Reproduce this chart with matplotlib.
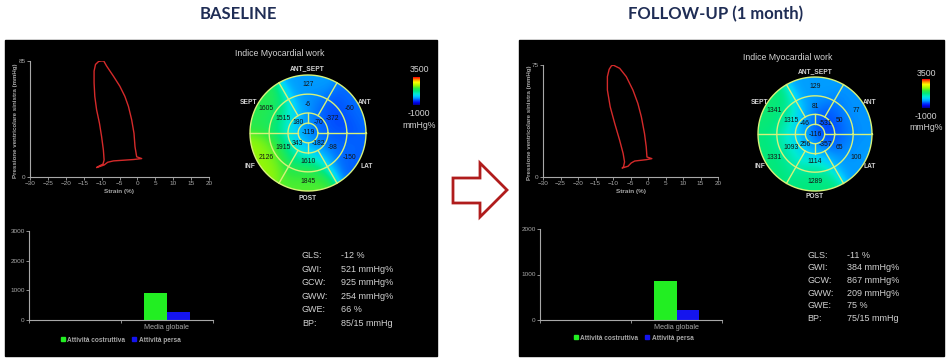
import numpy as np
import matplotlib
matplotlib.use('Agg')
import matplotlib.pyplot as plt
from matplotlib.colors import LinearSegmentedColormap
from matplotlib.patches import Rectangle, Polygon, Circle, Patch

W, H = 949, 361

# ---------------- data ----------------
panel_titles = ['BASELINE', 'FOLLOW-UP (1 month)']
strain_ticks = [-30, -25, -20, -15, -10, -5, 0, 5, 10, 15, 20]
pressure_max = [85, 75]

base_loop_strain = [-10.6, -9.4, -8.6, -6.7, -4.9, -3.5, -2.5, -1.6, -0.95, -0.67, -0.2, 1.2,
                    -1.1, -6.7, -8.3, -9.3, -11.4, -11.0, -9.6, -9.3, -9.5, -10.0, -10.6,
                    -11.4, -11.9, -12.1, -12.1, -11.7, -10.9]
base_loop_pressure = [85, 85, 81.3, 73.9, 66.5, 59.1, 51.7, 41.9, 32.0, 22.2, 14.8, 13.5,
                      12.8, 11.8, 10.8, 8.8, 6.9, 7.6, 9.5, 12.5, 19.7, 29.6, 39.4,
                      49.3, 59.1, 69.0, 77.6, 82.5, 84.5]
fu_loop_strain = [-10.0, -8.1, -6.2, -4.3, -2.9, -1.9, -1.0, -0.5, -0.3, 1.1,
                  -0.5, -3.8, -4.8, -5.7, -7.4, -7.0, -6.7, -7.1, -8.1, -9.5,
                  -10.8, -11.6, -11.6, -11.1, -10.5]
fu_loop_pressure = [75, 72.8, 67.2, 58.2, 49.3, 40.3, 29.1, 20.1, 13.4, 12.3,
                    11.6, 10.7, 9.4, 7.2, 6.0, 6.8, 10.1, 15.7, 24.6, 35.8,
                    47.0, 58.2, 67.2, 72.1, 74.3]

# bullseye: basal & mid order = ANT_SEPT, ANT, LAT, POST, INF, SEPT
wall_labels = ['ANT_SEPT', 'ANT', 'LAT', 'POST', 'INF', 'SEPT']
base_basal = [127, -60, -150, 1845, 2126, 1605]
base_mid = [-6, -372, -98, 1610, 1915, 1515]
base_apical = [180, -70, -182, 343]      # upper-left, upper-right, lower-right, lower-left
base_apex = -119
fu_basal = [129, 77, 100, 1289, 1331, 1341]
fu_mid = [81, 50, 65, 1114, 1093, 1315]
fu_apical = [-46, -531, -357, 256]
fu_apex = -116
cbar_range = [-1000, 3500]

bar_category = 'Media globale'
bar_series = ['Attività costruttiva', 'Attività persa']
base_bars = [925, 254]
fu_bars = [867, 209]
bar_ymax = [3000, 2000]

stat_names = ['GLS:', 'GWI:', 'GCW:', 'GWW:', 'GWE:', 'BP:']
base_stats = ['-12 %', '521 mmHg%', '925 mmHg%', '254 mmHg%', '66 %', '85/15 mmHg']
fu_stats = ['-11 %', '384 mmHg%', '867 mmHg%', '209 mmHg%', '75 %', '75/15 mmHg']

# ---------------- style ----------------
FONT = 'Liberation Sans'
GRAY = '#a8a8a8'
TXT = '#d2d2d2'
cmap = LinearSegmentedColormap.from_list('mw', [
    (0.00, '#000090'), (0.08, '#0000f0'), (0.16, '#0040ff'), (0.24, '#0098ff'),
    (0.32, '#00d0ff'), (0.40, '#00ecd0'), (0.50, '#00e880'), (0.60, '#30ea40'),
    (0.70, '#a0f800'), (0.82, '#ffff00'), (0.92, '#ff8000'), (1.00, '#ff0000')])

fig = plt.figure(figsize=(W / 100, H / 100), dpi=100)
fig.patch.set_facecolor('white')


def px_axes(x0, y0, x1, y1):
    return fig.add_axes([x0 / W, 1 - y1 / H, (x1 - x0) / W, (y1 - y0) / H])


def ftext(x, y, s, **kw):
    kw.setdefault('family', FONT)
    fig.text(x / W, 1 - y / H, s, **kw)


bg = px_axes(0, 0, W, H)
bg.set_xlim(0, W)
bg.set_ylim(H, 0)
bg.axis('off')

panels = [
    dict(x0=5, x1=437, title_x=238,
         loop=(30, 61, 209, 177), loop_ylab_x=16,
         loop_data=(base_loop_strain, base_loop_pressure),
         be_c=(308, 133), be_R=58, be_vals=(base_basal, base_mid, base_apical, base_apex),
         be_title=(235, 54),
         wl=[(307, 69), (365, 102), (367, 166), (308, 198), (250, 166), (249, 102)],
         cb=(413, 77, 420, 105), cb_x=419, cb_ty=(69, 113, 125),
         bar=(29, 231, 213, 320), bars=base_bars, ymax=bar_ymax[0],
         leg=(55, 340), stats=base_stats, st=(302, 341, 256, 13.4)),
    dict(x0=519, x1=944, title_x=716,
         loop=(543, 65, 718, 177), loop_ylab_x=529,
         loop_data=(fu_loop_strain, fu_loop_pressure),
         be_c=(815, 134), be_R=57, be_vals=(fu_basal, fu_mid, fu_apical, fu_apex),
         be_title=(743, 57),
         wl=[(815, 72), (870, 103), (870, 167), (815, 197), (760, 167), (760, 103)],
         cb=(922, 79, 930, 108), cb_x=926, cb_ty=(73, 116, 128),
         bar=(540, 229, 722, 320), bars=fu_bars, ymax=bar_ymax[1],
         leg=(568, 338), stats=fu_stats, st=(807, 847, 255, 12.7)),
]

for i, p in enumerate(panels):
    bg.add_patch(Rectangle((p['x0'], 40), p['x1'] - p['x0'], 316, color='black', zorder=0))
    ftext(p['title_x'], 14, panel_titles[i], family='Lato', fontweight='bold',
          fontsize=12, color='#1f2d55', ha='center', va='center')

# arrow between panels (decoration)
arrow_pts = [(453, 178), (480, 178), (480, 163), (507, 190), (480, 217), (480, 203), (453, 203)]
bg.add_patch(Polygon(arrow_pts, closed=True, facecolor='white', edgecolor='#b01c1c',
                     linewidth=2, joinstyle='miter', zorder=2))

basal_ang = np.deg2rad([90, 30, -30, -90, 210, 150])
apical_ang = np.deg2rad([135, 45, -45, 225])
R_APEX, R_API, R_MID = 0.17, 0.345, 0.67

for i, p in enumerate(panels):
    # ---------- pressure-strain loop ----------
    x0, y0, x1, y1 = p['loop']
    ax = px_axes(x0, y0, x1, y1)
    ax.set_facecolor('none')
    sx, py = p['loop_data']
    ax.plot(list(sx) + [sx[0]], list(py) + [py[0]], color='#d42a2a', lw=1.0,
            solid_joinstyle='round')
    ax.set_xlim(-30, 20)
    ax.set_ylim(0, pressure_max[i])
    ax.set_xticks(strain_ticks)
    ax.set_yticks([0, pressure_max[i]])
    for s in ['top', 'right']:
        ax.spines[s].set_visible(False)
    for s in ['left', 'bottom']:
        ax.spines[s].set_color(GRAY)
        ax.spines[s].set_linewidth(0.8)
    ax.tick_params(colors=GRAY, labelsize=4.6, length=2, width=0.6, pad=1)
    for lab in ax.get_xticklabels() + ax.get_yticklabels():
        lab.set_family(FONT)
    ax.set_xlabel('Strain (%)', fontsize=4.6, color=GRAY, family=FONT, labelpad=2,
                  fontweight='bold')
    ftext(p['loop_ylab_x'], (y0 + y1) / 2 + 2, 'Pressione ventricolare sinistra (mmHg)',
          fontsize=4.4, color=GRAY, rotation=90, ha='center', va='center', fontweight='bold')

    # ---------- bullseye ----------
    cx, cy = p['be_c']
    R = p['be_R']
    k = 1.06
    bax = px_axes(cx - R * k, cy - R * k, cx + R * k, cy + R * k)
    bax.set_xlim(-k, k)
    bax.set_ylim(-k, k)
    bax.axis('off')
    basal, mid, apical, apex = p['be_vals']
    pts = []
    for a, v in zip(basal_ang, basal):
        pts.append((0.835 * np.cos(a), 0.835 * np.sin(a), v))
    for a, v in zip(basal_ang, mid):
        pts.append((0.51 * np.cos(a), 0.51 * np.sin(a), v))
    for a, v in zip(apical_ang, apical):
        pts.append((0.26 * np.cos(a), 0.26 * np.sin(a), v))
    pts.append((0.0, 0.0, apex))
    pts = np.array(pts, dtype=float)
    N = 260
    g = np.linspace(-1, 1, N)
    X, Y = np.meshgrid(g, g)
    d2 = (X[None] - pts[:, 0, None, None]) ** 2 + (Y[None] - pts[:, 1, None, None]) ** 2
    w = np.exp(-d2 / (2 * 0.22 ** 2))
    field = (w * pts[:, 2, None, None]).sum(0) / w.sum(0)
    im = bax.imshow(field, extent=(-1, 1, -1, 1), origin='lower', cmap=cmap,
                    vmin=cbar_range[0], vmax=cbar_range[1], interpolation='bilinear')
    im.set_clip_path(Circle((0, 0), 1, transform=bax.transData))
    lc = '#d6f27a'
    t = np.linspace(0, 2 * np.pi, 300)
    for r in [R_APEX, R_API, R_MID, 1.0]:
        bax.plot(r * np.cos(t), r * np.sin(t), color=lc, lw=1.0, clip_on=False)
    for a in np.deg2rad([0, 60, 120, 180, 240, 300]):
        bax.plot([R_API * np.cos(a), np.cos(a)], [R_API * np.sin(a), np.sin(a)],
                 color=lc, lw=1.0, clip_on=False)
    for a in np.deg2rad([0, 90, 180, 270]):
        bax.plot([R_APEX * np.cos(a), R_API * np.cos(a)], [R_APEX * np.sin(a), R_API * np.sin(a)],
                 color=lc, lw=1.0)
    tkw = dict(fontsize=4.9, color='#141414', ha='center', va='center', family=FONT)
    for a, v in zip(basal_ang, basal):
        bax.text(0.83 * np.cos(a), 0.83 * np.sin(a), str(v), **tkw)
    for a, v in zip(basal_ang, mid):
        bax.text(0.49 * np.cos(a), 0.49 * np.sin(a), str(v), **tkw)
    for a, v in zip(apical_ang, apical):
        bax.text(0.25 * np.cos(a), 0.25 * np.sin(a), str(v), **tkw)
    bax.text(0, 0, str(apex), **tkw)

    ftext(p['be_title'][0], p['be_title'][1], 'Indice Myocardial work', fontsize=6.3,
          color=TXT, ha='left', va='center')
    for (lx, ly), lab in zip(p['wl'], wall_labels):
        ftext(lx, ly, lab, fontsize=4.8, color=TXT, fontweight='bold', ha='center', va='center')

    # colorbar
    c0, c1, c2, c3 = p['cb']
    cax = px_axes(c0, c1, c2, c3)
    cax.imshow(np.linspace(cbar_range[0], cbar_range[1], 100)[:, None], origin='lower',
               aspect='auto', cmap=cmap, vmin=cbar_range[0], vmax=cbar_range[1])
    cax.axis('off')
    ftext(p['cb_x'], p['cb_ty'][0], str(cbar_range[1]), fontsize=6.3, color=TXT,
          ha='center', va='center')
    ftext(p['cb_x'], p['cb_ty'][1], str(cbar_range[0]), fontsize=6.3, color=TXT,
          ha='center', va='center')
    ftext(p['cb_x'], p['cb_ty'][2], 'mmHg%', fontsize=6.3, color=TXT, ha='center', va='center')

    # ---------- bar chart ----------
    b0, b1, b2, b3 = p['bar']
    bax2 = px_axes(b0, b1, b2, b3)
    bax2.set_facecolor('none')
    bax2.bar([1.375, 1.625], p['bars'], width=0.25, color=['#22ee22', '#1414ee'])
    bax2.set_xlim(0, 2)
    bax2.set_ylim(0, p['ymax'])
    bax2.set_yticks(np.arange(0, p['ymax'] + 1, 1000))
    bax2.set_xticks([0, 1, 2])
    bax2.set_xticklabels([])
    bax2.set_xticks([1.5], [bar_category], minor=True)
    for s in ['top', 'right']:
        bax2.spines[s].set_visible(False)
    for s in ['left', 'bottom']:
        bax2.spines[s].set_color(GRAY)
        bax2.spines[s].set_linewidth(0.8)
    bax2.tick_params(which='both', colors=GRAY, labelsize=4.6, length=2, width=0.6, pad=1)
    bax2.tick_params(axis='x', which='minor', length=0, pad=3, labelsize=5.2)
    for lab in bax2.get_xticklabels(minor=True) + bax2.get_yticklabels():
        lab.set_family(FONT)
    handles = [Patch(color='#22ee22'), Patch(color='#1414ee')]
    fig.legend(handles, bar_series, loc='center left',
               bbox_to_anchor=(p['leg'][0] / W, 1 - p['leg'][1] / H), ncol=2,
               frameon=False, labelcolor=GRAY, handlelength=0.6,
               handleheight=0.6, handletextpad=0.4, columnspacing=1.0,
               prop={'family': FONT, 'size': 4.7, 'weight': 'bold'})

    # ---------- stats ----------
    sx0, sx1, sy0, dy = p['st']
    for j, (n, v) in enumerate(zip(stat_names, p['stats'])):
        ftext(sx0, sy0 + j * dy, n, fontsize=6.5, color=TXT, ha='left', va='center')
        ftext(sx1, sy0 + j * dy, v, fontsize=6.5, color=TXT, ha='left', va='center')

fig.savefig('out.png', dpi=100, facecolor='white')
